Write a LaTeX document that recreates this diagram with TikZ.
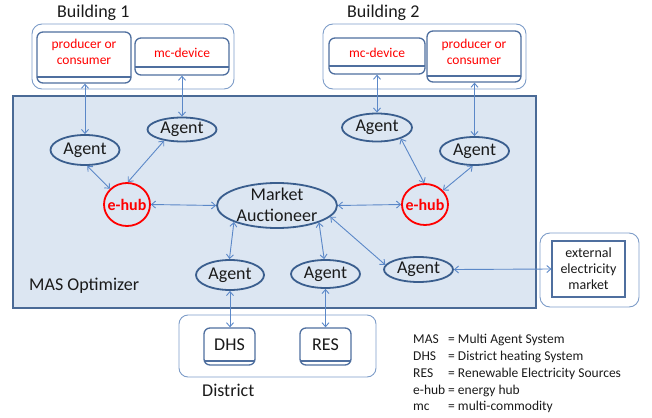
\documentclass[tikz,border=0pt]{standalone}
\usepackage{fontspec}
\setmainfont{Carlito}
\usetikzlibrary{shapes.geometric,arrows.meta}
\definecolor{masfill}{HTML}{DCE6F2}
\definecolor{masdraw}{HTML}{4A6A96}
\definecolor{bldraw}{HTML}{7D9CC8}
\definecolor{devdraw}{HTML}{4F6F9F}
\definecolor{elldraw}{HTML}{3A5E8E}
\definecolor{arrowc}{HTML}{5B88C8}
\definecolor{txt}{HTML}{1A1A1A}
\tikzset{
  bldbox/.style={draw=bldraw, line width=0.9pt, rounded corners=10pt},
  devbox/.style={draw=devdraw, line width=1.3pt, rounded corners=6pt, fill=white},
  agent/.style={ellipse, draw=elldraw, line width=1.8pt, fill=masfill, inner sep=0pt,
    font=\fontsize{18}{21}\selectfont, text=txt},
  ehub/.style={ellipse, draw=red, line width=1.8pt, fill=masfill, inner sep=0pt},
  ehubtext/.style={font=\fontsize{16}{19}\selectfont\bfseries, text=red, inner sep=0pt},
  redtext/.style={font=\fontsize{13.5}{16}\selectfont, text=red, align=center, inner sep=0pt},
  bigtext/.style={font=\fontsize{18}{21}\selectfont, text=txt, inner sep=0pt},
  legtext/.style={font=\fontsize{13.5}{17}\selectfont, text=txt, inner sep=0pt, anchor=base west},
  link/.style={draw=arrowc, line width=0.9pt, {Straight Barb[length=4pt,width=7pt]}-{Straight Barb[length=4pt,width=7pt]}}
}
\begin{document}
\begin{tikzpicture}[x=1pt,y=-1pt]
\useasboundingbox (0,0) rectangle (652,417);

% MAS optimizer box
\path[fill=masfill, draw=masdraw, line width=1.6pt] (13,96) rectangle (536,308);
\node[bigtext, anchor=west] (masl) at (29,286) {MAS Optimizer};

% Building 1
\node[bigtext, anchor=west] (b1l) at (57,13) {Building 1};
\path[bldbox] (32,24) rectangle (234,89);
\node[devbox, minimum width=94pt, minimum height=51pt] (p1) at (84,57.5) {};
\draw[devdraw, line width=1.1pt] (37,77) -- (131,77);
\node[redtext] (p1t) at (84,52) {producer or\\consumer};
\node[devbox, minimum width=94pt, minimum height=37pt] (m1) at (182,56.5) {};
\draw[devdraw, line width=1.1pt] (135,67) -- (229,67);
\node[redtext] (m1t) at (182,53) {mc-device};

% Building 2
\node[bigtext, anchor=west] (b2l) at (347,13) {Building 2};
\path[bldbox] (323,24) rectangle (526,89);
\node[devbox, minimum width=96pt, minimum height=36pt] (m2) at (377,56) {};
\draw[devdraw, line width=1.1pt] (329,66) -- (425,66);
\node[redtext] (m2t) at (377,53) {mc-device};
\node[devbox, minimum width=94pt, minimum height=51pt] (p2) at (474,56.5) {};
\draw[devdraw, line width=1.1pt] (427,76) -- (521,76);
\node[redtext] (p2t) at (474,52) {producer or\\consumer};

% District
\path[bldbox, rounded corners=9pt] (179,315) rectangle (376,377);
\node[bigtext, anchor=west] (distl) at (202,390) {District};
\node[devbox, minimum width=51pt, minimum height=37pt, font=\fontsize{18}{21}\selectfont, text=txt] (dhs) at (229.5,346.5) {};
\draw[devdraw, line width=1.1pt] (204,361) -- (255,361);
\node[bigtext] (dhst) at (229.5,344.5) {DHS};
\node[devbox, minimum width=51pt, minimum height=37pt] (res) at (325.5,346.5) {};
\draw[devdraw, line width=1.1pt] (300,361) -- (351,361);
\node[bigtext] (rest) at (325.5,344.5) {RES};

% external market
\path[bldbox] (540,233) rectangle (639,307);
\node[draw=devdraw, line width=1.1pt, fill=white, minimum width=73pt, minimum height=56pt] (ext) at (588.5,269) {};
\node[font=\fontsize{14}{16}\selectfont, text=txt, align=center, inner sep=0pt] (extt) at (588.5,269) {external\\electricity\\market};

% Agents
\node[agent, minimum width=69pt, minimum height=30pt] (a1) at (85,150) {Agent};
\node[agent, minimum width=69pt, minimum height=24pt] (a2) at (182,129.5) {Agent};
\node[agent, minimum width=70pt, minimum height=28pt] (amc2) at (377,127.5) {Agent};
\node[agent, minimum width=69pt, minimum height=28pt] (ap2) at (474.5,151) {Agent};
\node[agent, minimum width=68pt, minimum height=30pt] (ab1) at (230,275) {Agent};
\node[agent, minimum width=69pt, minimum height=28pt] (ab2) at (325.5,274) {Agent};
\node[agent, minimum width=69pt, minimum height=25pt] (ar) at (418.5,269.5) {Agent};

% Market auctioneer
\node[ellipse, draw=elldraw, line width=1.8pt, fill=masfill, minimum width=120pt, minimum height=45pt] (ma) at (277,205.5) {};
\node[bigtext, align=center, font=\fontsize{18}{21}\selectfont] (mat) at (277,205) {Market\\Auctioneer};

% e-hubs
\node[ehub, minimum width=46pt, minimum height=43pt] (e1) at (127,204.5) {};
\node[ehubtext] (e1t) at (127,205) {e-hub};
\node[ehub, minimum width=46pt, minimum height=41pt] (e2) at (425,204.5) {};
\node[ehubtext] (e2t) at (425,205) {e-hub};

% connectors
\path[link] (p1.south -| a1.north) -- (a1.north);
\path[link] (m1.south -| a2.north) -- (a2.north);
\path[link] (m2.south -| amc2.north) -- (amc2.north);
\path[link] (p2.south -| ap2.north) -- (ap2.north);
\path[link] (a1.-82) -- (e1.137);
\path[link] (a2.212) -- (e1.88);
\path[link] (amc2.-25) -- (e2.92);
\path[link] (ap2.-97) -- (e2.38);
\path[link] (e1.east) -- (ma.west);
\path[link] (ma.east) -- (e2.west);
\path[link] (ma.201) -- (ab1.92);
\path[link] (ma.-22) -- (ab2.95);
\path[link] (ma.-12) -- (ar.172);
\path[link] (ar.east) -- (ext.west);
\path[link] (ab1.south) -- (ab1.south |- dhs.north);
\path[link] (ab2.south) -- (ab2.south |- res.north);

% legend
\node[legtext] (l1a) at (413,343) {MAS};
\node[legtext] (l1b) at (448,343) {= Multi Agent System};
\node[legtext] (l2a) at (413,360) {DHS};
\node[legtext] (l2b) at (448,360) {= District heating System};
\node[legtext] (l3a) at (413,377) {RES};
\node[legtext] (l3b) at (448,377) {= Renewable Electricity Sources};
\node[legtext] (l4a) at (413,394) {e-hub};
\node[legtext] (l4b) at (448,394) {= energy hub};
\node[legtext] (l5a) at (413,410) {mc};
\node[legtext] (l5b) at (448,410) {= multi-commodity};
\end{tikzpicture}
\end{document}
